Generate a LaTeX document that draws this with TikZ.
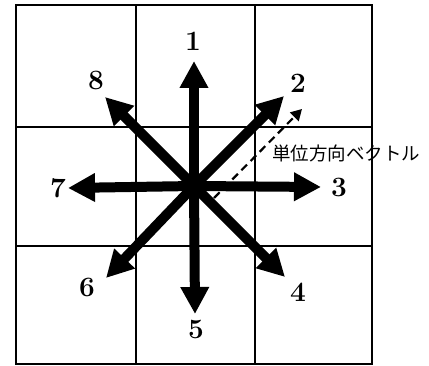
\documentclass[tikz,border=0pt]{standalone}
\usepackage{fontspec}
\newfontfamily\jpfont{Noto Sans CJK JP}
\usetikzlibrary{arrows.meta}
\begin{document}
\begin{tikzpicture}[x=1pt,y=-1pt,
  gridline/.style={line width=1.5pt},
  bigarrow/.style={line width=10pt,-{Triangle[length=27pt,width=27pt]}},
  dasharrow/.style={line width=2.2pt,dash pattern=on 8pt off 5pt,-{Triangle[length=11pt,width=12pt]}},
  numlabel/.style={font=\fontsize{28}{30}\selectfont\bfseries,inner sep=0pt},
  jplabel/.style={font=\jpfont\fontsize{18.5}{20}\selectfont,inner sep=0pt,anchor=west}]
\useasboundingbox (0,0) rectangle (429,366);
% grid
\draw[gridline] (16,5) rectangle (372,364);
\draw[gridline] (136,5) -- (136,364);
\draw[gridline] (255,5) -- (255,364);
\draw[gridline] (16,127) -- (372,127);
\draw[gridline] (16,246) -- (372,246);
% coordinates
\coordinate (c) at (194,186);
\coordinate (t1) at (194,61);
\coordinate (t2) at (284,96);
\coordinate (t3) at (321,187);
\coordinate (t4) at (285,277);
\coordinate (t5) at (195,314);
\coordinate (t6) at (106,278);
\coordinate (t7) at (68,188);
\coordinate (t8) at (105,97);
\coordinate (d0) at (214,198);
\coordinate (d1) at (302,109);
% arrows
\foreach \i in {1,...,8} {\draw[bigarrow] (c) -- (t\i);}
\fill (c) circle (8pt);
\draw[dasharrow] (d0) -- (d1);
% labels
\node[numlabel] (n1) at (193,41) {1};
\node[numlabel] (n2) at (298,83) {2};
\node[numlabel] (n3) at (339,187) {3};
\node[numlabel] (n4) at (298,292) {4};
\node[numlabel] (n5) at (196,329) {5};
\node[numlabel] (n6) at (87,287) {6};
\node[numlabel] (n7) at (58,188) {7};
\node[numlabel] (n8) at (96,80) {8};
\node[jplabel] (unit) at (272,153) {単位方向ベクトル};
\end{tikzpicture}
\end{document}
